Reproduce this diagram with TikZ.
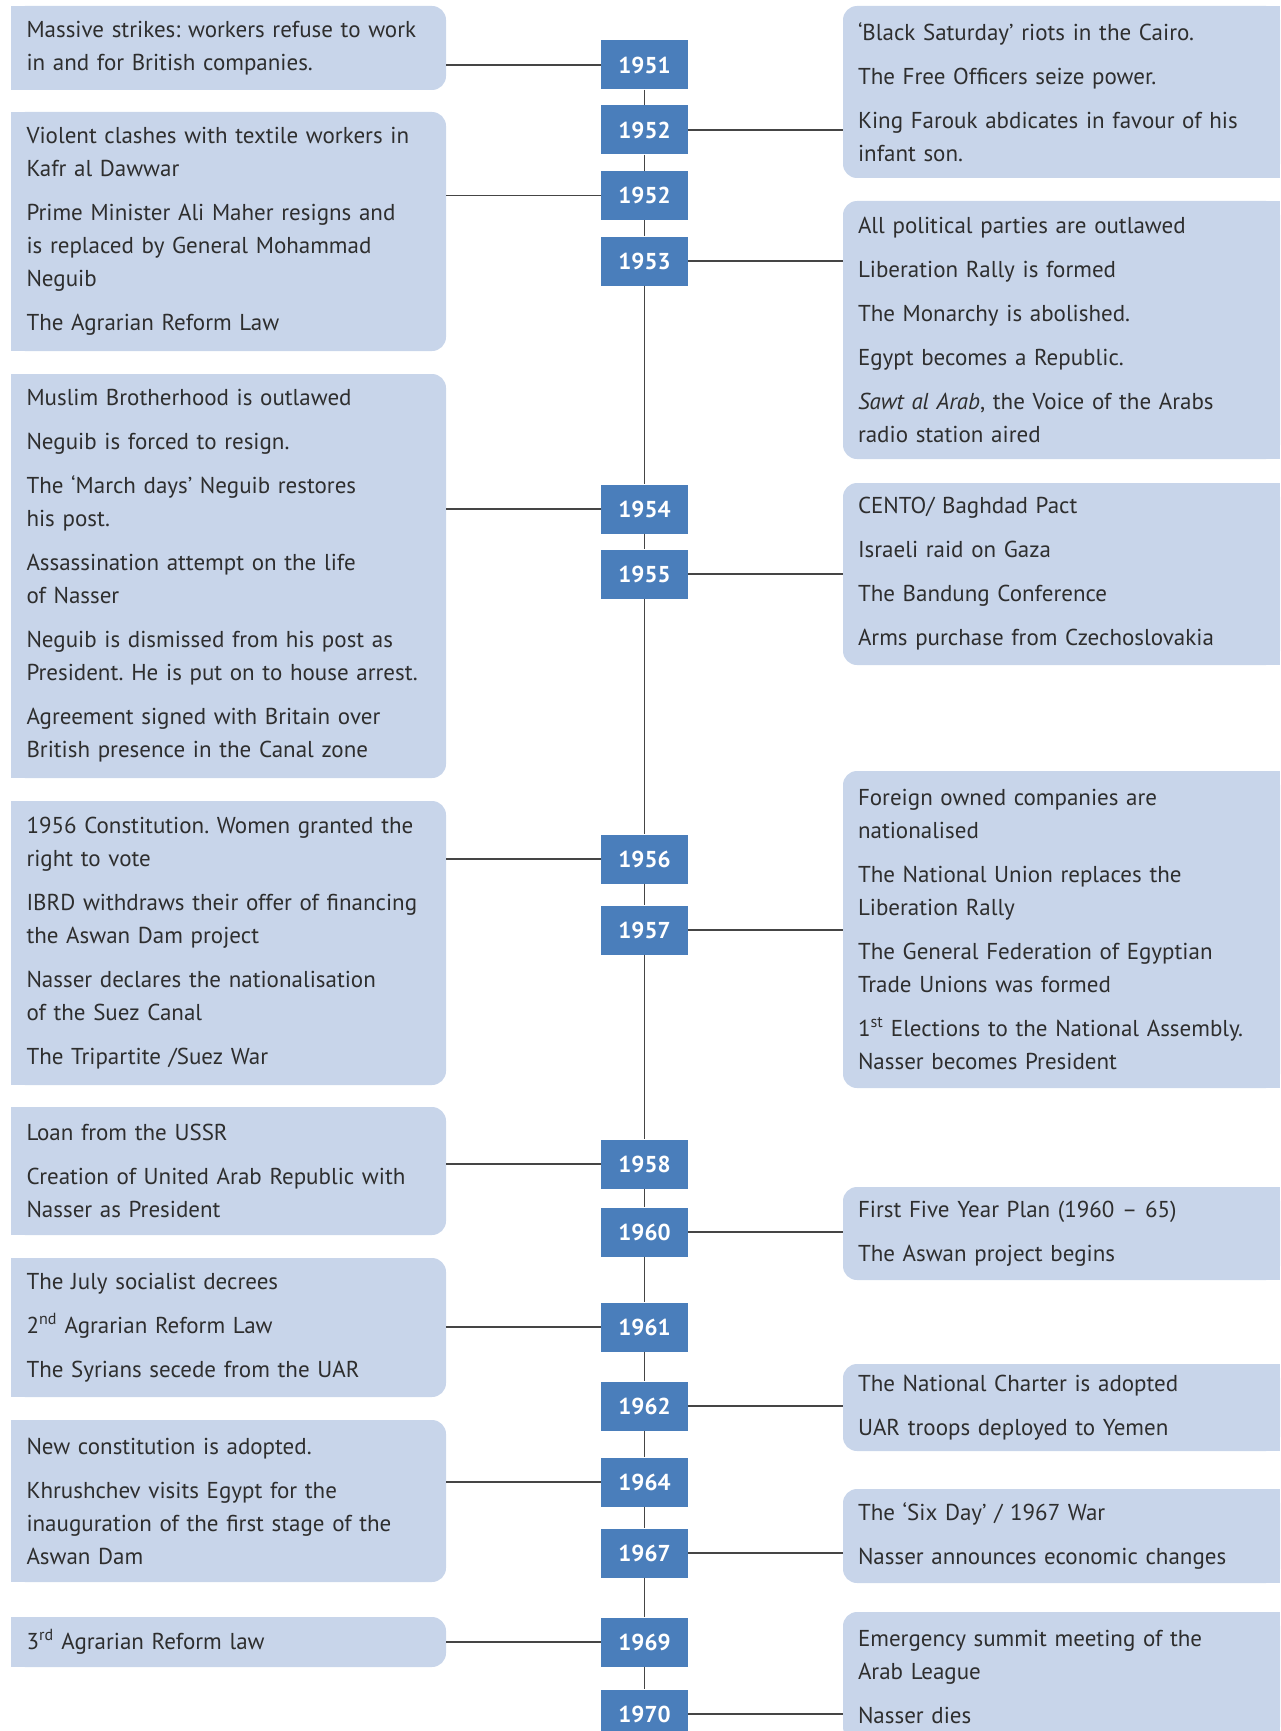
\documentclass[tikz,border=0pt]{standalone}
\usepackage{fontspec}
\setmainfont{PT Sans}
\frenchspacing
\usetikzlibrary{backgrounds}
\definecolor{evfill}{HTML}{C8D5EA}
\definecolor{yearblue}{HTML}{4A7EBB}
\definecolor{evtext}{HTML}{2E2E2E}
\definecolor{spine}{HTML}{454545}

\begin{document}
\begin{tikzpicture}[x=1pt,y=-1pt,
    year/.style={fill=yearblue, text=white, font=\fontsize{23}{23}\selectfont\bfseries,
      minimum width=87pt, minimum height=49pt, inner sep=0pt},
    event/.style={fill=evfill, rounded corners=14pt, text=evtext,
      font=\fontsize{23}{33}\selectfont, align=left, inner ysep=0pt, minimum height=#1},
    lbox/.style={event=#1, text width=404pt, inner xsep=15.5pt},
    rbox/.style={event=#1, text width=407pt, inner xsep=15pt},
    link/.style={draw=spine, line width=1.3pt}]

        \useasboundingbox (0,0) rectangle (1280,1731);
        \clip (0,0) rectangle (1280,1731);

        % years on the spine
        \begin{scope}[every node/.style={year}]
          \node (y1951)  at (644.5,65)   {1951};
          \node (y1952a) at (644.5,130)  {1952};
          \node (y1952b) at (644.5,195.5){1952};
          \node (y1953)  at (644.5,261)  {1953};
          \node (y1954)  at (644.5,509)  {1954};
          \node (y1955)  at (644.5,574)  {1955};
          \node (y1956)  at (644.5,859)  {1956};
          \node (y1957)  at (644.5,930)  {1957};
          \node (y1958)  at (644.5,1164) {1958};
          \node (y1960)  at (644.5,1232) {1960};
          \node (y1961)  at (644.5,1327) {1961};
          \node (y1962)  at (644.5,1406) {1962};
          \node (y1964)  at (644.5,1482) {1964};
          \node (y1967)  at (644.5,1553) {1967};
          \node (y1969)  at (644.5,1642) {1969};
          \node (y1970)  at (644.5,1714) {1970};
        \end{scope}

        % left events
        \node[lbox=84pt]  (l1) at (228.5,48)
          {Massive strikes: workers refuse to work\\in and for British companies.};
        \node[lbox=239pt] (l2) at (228.5,231.5)
          {Violent clashes with textile workers in\\Kafr al Dawwar\\[11pt]
           Prime Minister Ali Maher resigns and\\is replaced by General Mohammad\\Neguib\\[11pt]
           The Agrarian Reform Law};
        \node[lbox=404pt] (l3) at (228.5,576)
          {Muslim Brotherhood is outlawed\\[11pt]
           Neguib is forced to resign.\\[11pt]
           The ‘March days’ Neguib restores\\his post.\\[11pt]
           Assassination attempt on the life\\of Nasser\\[11pt]
           Neguib is dismissed from his post as\\President. He is put on to house arrest.\\[11pt]
           Agreement signed with Britain over\\British presence in the Canal zone};
        \node[lbox=284pt] (l4) at (228.5,943)
          {1956 Constitution. Women granted the\\right to vote\\[11pt]
           IBRD withdraws their offer of financing\\the Aswan Dam project\\[11pt]
           Nasser declares the nationalisation\\of the Suez Canal\\[11pt]
           The Tripartite /Suez War};
        \node[lbox=128pt] (l5) at (228.5,1171)
          {Loan from the USSR\\[11pt]
           Creation of United Arab Republic with\\Nasser as President};
        \node[lbox=139pt] (l6) at (228.5,1327.5)
          {The July socialist decrees\\[11pt]
           2\textsuperscript{nd} Agrarian Reform Law\\[11pt]
           The Syrians secede from the UAR};
        \node[lbox=162pt] (l7) at (228.5,1501)
          {New constitution is adopted.\\[11pt]
           Khrushchev visits Egypt for the\\inauguration of the first stage of the\\Aswan Dam};
        \node[lbox=50pt]  (l8) at (228.5,1642)
          {3\textsuperscript{rd} Agrarian Reform law};

        % right events
        \node[rbox=172pt] (r1) at (1061.5,92)
          {‘Black Saturday’ riots in the Cairo.\\[11pt]
           The Free Officers seize power.\\[11pt]
           King Farouk abdicates in favour of his\\infant son.};
        \node[rbox=258pt] (r2) at (1061.5,330)
          {All political parties are outlawed\\[11pt]
           Liberation Rally is formed\\[11pt]
           The Monarchy is abolished.\\[11pt]
           Egypt becomes a Republic.\\[11pt]
           \textit{Sawt al Arab}, the Voice of the Arabs\\radio station aired};
        \node[rbox=182pt] (r3) at (1061.5,574)
          {CENTO/ Baghdad Pact\\[11pt]
           Israeli raid on Gaza\\[11pt]
           The Bandung Conference\\[11pt]
           Arms purchase from Czechoslovakia};
        \node[rbox=317pt] (r4) at (1061.5,929.5)
          {Foreign owned companies are\\nationalised\\[11pt]
           The National Union replaces the\\Liberation Rally\\[11pt]
           The General Federation of Egyptian\\Trade Unions was formed\\[11pt]
           1\textsuperscript{st} Elections to the National Assembly.\\Nasser becomes President};
        \node[rbox=93pt]  (r5) at (1061.5,1233.5)
          {First Five Year Plan (1960 – 65)\\[11pt]
           The Aswan project begins};
        \node[rbox=87pt]  (r6) at (1061.5,1407.5)
          {The National Charter is adopted\\[11pt]
           UAR troops deployed to Yemen};
        \node[rbox=94pt]  (r7) at (1061.5,1536)
          {The ‘Six Day’ / 1967 War\\[11pt]
           Nasser announces economic changes};
        \node[rbox=129pt] (r8) at (1061.5,1676.5)
          {Emergency summit meeting of the\\Arab League\\[11pt]
           Nasser dies};

        % square off the outer corners
        \begin{scope}[on background layer]
          \foreach \i in {1,...,8} {
            \fill[evfill] (l\i.south west) rectangle (l\i.north);
            \fill[evfill] (r\i.north) rectangle (r\i.south east);
          }
        \end{scope}

        % spine between the years
        \foreach \a/\b in {y1951/y1952a, y1952a/y1952b, y1952b/y1953, y1953/y1954,
                           y1954/y1955, y1955/y1956, y1956/y1957, y1957/y1958,
                           y1958/y1960, y1960/y1961, y1961/y1962, y1962/y1964,
                           y1964/y1967, y1967/y1969, y1969/y1970}
          \draw[link] (\a.south) -- (\b.north);

        % links to the events
        \foreach \b/\y in {l1/y1951, l2/y1952b, l3/y1954, l4/y1956,
                           l5/y1958, l6/y1961, l7/y1964, l8/y1969}
          \draw[link] (\b.east |- \y) -- (\y.west);
        \foreach \b/\y in {r1/y1952a, r2/y1953, r3/y1955, r4/y1957,
                           r5/y1960, r6/y1962, r7/y1967, r8/y1970}
          \draw[link] (\y.east) -- (\b.west |- \y);

      \end{tikzpicture}
\end{document}
